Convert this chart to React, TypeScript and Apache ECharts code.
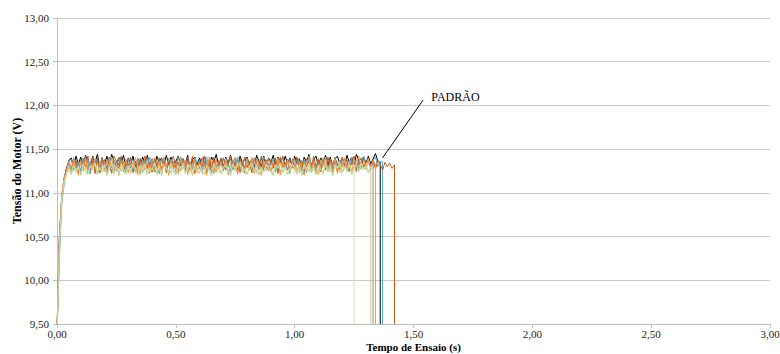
import React, { useEffect, useRef } from "react";
import * as echarts from "echarts";

// sampling interval of the recorded signals (s)
const SAMPLE_STEP = 0.01;
// value the curves fall to when the motor is switched off (axis floor)
const FLOOR_V = 9.5;

const cream = [
  9.40, 10.30, 10.90, 11.12, 11.22, 11.30, 11.24, 11.35, 11.27, 11.33,
  11.22, 11.36, 11.26, 11.31, 11.21, 11.34, 11.28, 11.37, 11.23, 11.30,
  11.35, 11.25, 11.32, 11.21, 11.36, 11.27, 11.33, 11.24, 11.31, 11.37,
  11.23, 11.29, 11.35, 11.22, 11.33, 11.26, 11.36, 11.28, 11.21, 11.32,
  11.27, 11.37, 11.24, 11.31, 11.22, 11.35, 11.29, 11.23, 11.34, 11.26,
  11.33, 11.21, 11.30, 11.36, 11.25, 11.32, 11.22, 11.35, 11.28, 11.24,
  11.36, 11.27, 11.31, 11.22, 11.34, 11.25, 11.37, 11.29, 11.23, 11.33,
  11.26, 11.35, 11.21, 11.30, 11.36, 11.24, 11.32, 11.27, 11.34, 11.22,
  11.31, 11.25, 11.36, 11.28, 11.22, 11.33, 11.26, 11.37, 11.24, 11.30,
  11.35, 11.23, 11.29, 11.34, 11.21, 11.32, 11.27, 11.36, 11.25, 11.31,
  11.22, 11.34, 11.28, 11.37, 11.24, 11.30, 11.35, 11.23, 11.33, 11.26,
  11.36, 11.29, 11.22, 11.32, 11.27, 11.35, 11.21, 11.31, 11.25, 11.34,
  11.28, 11.36, 11.23, 11.30, 11.26, 11.33,
];

const gray = [
  9.40, 10.35, 10.92, 11.14, 11.24, 11.33, 11.25, 11.37, 11.28, 11.34,
  11.23, 11.36, 11.29, 11.38, 11.24, 11.32, 11.27, 11.35, 11.22, 11.31,
  11.37, 11.26, 11.33, 11.23, 11.38, 11.29, 11.34, 11.25, 11.36, 11.28,
  11.32, 11.22, 11.35, 11.27, 11.38, 11.24, 11.31, 11.36, 11.26, 11.33,
  11.23, 11.37, 11.29, 11.34, 11.25, 11.38, 11.28, 11.32, 11.22, 11.35,
  11.30, 11.24, 11.37, 11.27, 11.33, 11.23, 11.36, 11.29, 11.38, 11.26,
  11.34, 11.22, 11.31, 11.37, 11.25, 11.35, 11.28, 11.23, 11.36, 11.30,
  11.26, 11.38, 11.32, 11.24, 11.35, 11.27, 11.37, 11.22, 11.33, 11.29,
  11.36, 11.25, 11.31, 11.38, 11.23, 11.34, 11.28, 11.36, 11.26, 11.32,
  11.24, 11.37, 11.29, 11.33, 11.22, 11.35, 11.27, 11.38, 11.25, 11.31,
  11.36, 11.28, 11.23, 11.34, 11.30, 11.37, 11.24, 11.32, 11.27, 11.35,
  11.22, 11.33, 11.38, 11.26, 11.31, 11.24, 11.36, 11.29, 11.34, 11.23,
  11.37, 11.28, 11.32, 11.25, 11.35, 11.30, 11.23, 11.36, 11.27, 11.33,
  11.26, 11.34, 11.29,
];

const brown = [
  9.40, 10.45, 10.97, 11.17, 11.27, 11.36, 11.26, 11.40, 11.29, 11.35,
  11.24, 11.39, 11.30, 11.42, 11.25, 11.36, 11.28, 11.40, 11.23, 11.34,
  11.38, 11.27, 11.41, 11.30, 11.24, 11.37, 11.32, 11.42, 11.26, 11.35,
  11.29, 11.40, 11.23, 11.36, 11.31, 11.39, 11.25, 11.34, 11.41, 11.28,
  11.37, 11.24, 11.33, 11.40, 11.27, 11.38, 11.30, 11.23, 11.36, 11.42,
  11.29, 11.35, 11.25, 11.39, 11.31, 11.41, 11.26, 11.34, 11.38, 11.24,
  11.36, 11.30, 11.42, 11.27, 11.35, 11.23, 11.39, 11.32, 11.28, 11.40,
  11.25, 11.37, 11.31, 11.41, 11.26, 11.34, 11.38, 11.24, 11.36, 11.29,
  11.40, 11.27, 11.35, 11.23, 11.39, 11.32, 11.42, 11.28, 11.34, 11.25,
  11.38, 11.30, 11.36, 11.24, 11.41, 11.29, 11.35, 11.26, 11.39, 11.31,
  11.27, 11.40, 11.33, 11.25, 11.37, 11.30, 11.42, 11.28, 11.35, 11.23,
  11.39, 11.31, 11.36, 11.26, 11.41, 11.29, 11.34, 11.38, 11.24, 11.37,
  11.30, 11.40, 11.27, 11.35, 11.32, 11.39, 11.25, 11.36, 11.29, 11.41,
  11.33, 11.38, 11.30, 11.35,
];

const orange = [
  9.40, 10.50, 10.98, 11.18, 11.26, 11.36, 11.22, 11.38, 11.28, 11.20,
  11.37, 11.25, 11.40, 11.23, 11.33, 11.29, 11.39, 11.21, 11.35, 11.27,
  11.24, 11.38, 11.30, 11.41, 11.22, 11.34, 11.20, 11.37, 11.28, 11.39,
  11.23, 11.35, 11.27, 11.40, 11.31, 11.21, 11.36, 11.26, 11.38, 11.22,
  11.39, 11.29, 11.21, 11.36, 11.25, 11.41, 11.32, 11.20, 11.37, 11.28,
  11.34, 11.22, 11.40, 11.30, 11.37, 11.21, 11.33, 11.26, 11.39, 11.24,
  11.23, 11.36, 11.29, 11.20, 11.41, 11.33, 11.24, 11.38, 11.27, 11.35,
  11.26, 11.39, 11.21, 11.34, 11.30, 11.40, 11.23, 11.36, 11.28, 11.22,
  11.37, 11.27, 11.41, 11.22, 11.38, 11.31, 11.20, 11.36, 11.29, 11.39,
  11.24, 11.34, 11.28, 11.40, 11.21, 11.35, 11.30, 11.38, 11.25, 11.33,
  11.39, 11.22, 11.36, 11.27, 11.20, 11.34, 11.40, 11.26, 11.37, 11.29,
  11.21, 11.38, 11.32, 11.41, 11.24, 11.35, 11.28, 11.39, 11.22, 11.36,
  11.30, 11.40, 11.25, 11.37, 11.23, 11.38, 11.31, 11.42, 11.27, 11.36,
  11.32, 11.39, 11.29, 11.37, 11.33,
];

const darkOrange = [
  9.40, 10.42, 10.96, 11.16, 11.27, 11.36, 11.39, 11.26, 11.37, 11.23,
  11.38, 11.29, 11.42, 11.25, 11.35, 11.40, 11.22, 11.37, 11.30, 11.41,
  11.27, 11.38, 11.33, 11.23, 11.42, 11.36, 11.28, 11.40, 11.24, 11.37,
  11.30, 11.41, 11.26, 11.36, 11.22, 11.39, 11.32, 11.42, 11.28, 11.35,
  11.24, 11.40, 11.31, 11.37, 11.25, 11.41, 11.23, 11.35, 11.39, 11.28,
  11.37, 11.24, 11.41, 11.33, 11.26, 11.39, 11.30, 11.42, 11.22, 11.36,
  11.28, 11.40, 11.35, 11.23, 11.38, 11.29, 11.41, 11.25, 11.37, 11.32,
  11.40, 11.26, 11.35, 11.42, 11.28, 11.37, 11.22, 11.39, 11.31, 11.41,
  11.29, 11.36, 11.23, 11.40, 11.34, 11.27, 11.41, 11.25, 11.38, 11.32,
  11.37, 11.28, 11.40, 11.22, 11.35, 11.42, 11.30, 11.38, 11.25, 11.36,
  11.31, 11.41, 11.27, 11.37, 11.23, 11.39, 11.34, 11.26, 11.42, 11.29,
  11.38, 11.24, 11.35, 11.41, 11.30, 11.37, 11.22, 11.40, 11.33, 11.27,
  11.41, 11.32, 11.38, 11.25, 11.36, 11.42, 11.28, 11.35, 11.40, 11.29,
  11.36, 11.40, 11.31, 11.38, 11.27, 11.37, 11.33, 11.26, 11.35, 11.30,
  11.34, 11.28, 11.32,
];

const teal = [
  9.40, 10.25, 10.88, 11.10, 11.25, 11.35, 11.26, 11.39, 11.29, 11.36,
  11.24, 11.40, 11.30, 11.37, 11.22, 11.41, 11.31, 11.38, 11.26, 11.39,
  11.35, 11.23, 11.40, 11.29, 11.37, 11.25, 11.41, 11.32, 11.36, 11.22,
  11.39, 11.28, 11.35, 11.24, 11.40, 11.33, 11.23, 11.38, 11.30, 11.41,
  11.27, 11.37, 11.32, 11.22, 11.39, 11.35, 11.26, 11.40, 11.29, 11.36,
  11.24, 11.41, 11.33, 11.38, 11.23, 11.39, 11.31, 11.27, 11.40, 11.34,
  11.37, 11.25, 11.36, 11.41, 11.28, 11.35, 11.22, 11.39, 11.30, 11.37,
  11.26, 11.40, 11.33, 11.24, 11.38, 11.31, 11.41, 11.27, 11.36, 11.23,
  11.39, 11.30, 11.37, 11.25, 11.40, 11.34, 11.26, 11.41, 11.35, 11.28,
  11.33, 11.39, 11.24, 11.37, 11.31, 11.41, 11.27, 11.36, 11.22, 11.39,
  11.30, 11.40, 11.35, 11.26, 11.38, 11.23, 11.42, 11.33, 11.37, 11.28,
  11.36, 11.25, 11.40, 11.32, 11.27, 11.39, 11.30, 11.41, 11.29, 11.35,
  11.40, 11.31, 11.37, 11.24, 11.41, 11.33, 11.38, 11.27, 11.36, 11.42,
  11.31, 11.38, 11.27, 11.37, 11.41, 11.30, 11.35, 11.36,
];

const padrao = [
  9.40, 10.50, 10.93, 11.16, 11.28, 11.37, 11.40, 11.30, 11.42, 11.33,
  11.41, 11.29, 11.43, 11.35, 11.28, 11.42, 11.34, 11.44, 11.30, 11.39,
  11.33, 11.42, 11.29, 11.44, 11.36, 11.30, 11.41, 11.33, 11.43, 11.28,
  11.40, 11.32, 11.42, 11.29, 11.38, 11.27, 11.41, 11.34, 11.43, 11.31,
  11.39, 11.28, 11.42, 11.35, 11.40, 11.30, 11.43, 11.32, 11.41, 11.29,
  11.36, 11.42, 11.31, 11.39, 11.33, 11.43, 11.28, 11.38, 11.41, 11.32,
  11.40, 11.30, 11.42, 11.35, 11.28, 11.41, 11.36, 11.44, 11.31, 11.39,
  11.29, 11.41, 11.34, 11.43, 11.32, 11.40, 11.27, 11.42, 11.35, 11.38,
  11.41, 11.31, 11.39, 11.29, 11.43, 11.36, 11.30, 11.42, 11.28, 11.40,
  11.35, 11.43, 11.30, 11.41, 11.37, 11.31, 11.42, 11.34, 11.40, 11.29,
  11.42, 11.32, 11.39, 11.28, 11.41, 11.35, 11.44, 11.31, 11.38, 11.42,
  11.30, 11.40, 11.35, 11.43, 11.31, 11.41, 11.28, 11.39, 11.42, 11.33,
  11.40, 11.30, 11.43, 11.35, 11.41, 11.32, 11.44, 11.37, 11.30, 11.41,
  11.34, 11.42, 11.33, 11.39, 11.45, 11.36, 11.35,
];

const green = [
  9.40, 10.38, 10.93, 11.13, 11.22, 11.29, 11.21, 11.32, 11.24, 11.30,
  11.20, 11.33, 11.25, 11.21, 11.31, 11.27, 11.34, 11.22, 11.29, 11.24,
  11.32, 11.20, 11.28, 11.34, 11.23, 11.30, 11.21, 11.33, 11.26, 11.22,
  11.31, 11.24, 11.34, 11.27, 11.20, 11.32, 11.25, 11.33, 11.21, 11.29,
  11.26, 11.34, 11.22, 11.30, 11.20, 11.32, 11.28, 11.23, 11.33, 11.25,
  11.21, 11.31, 11.26, 11.34, 11.23, 11.29, 11.32, 11.20, 11.30, 11.24,
  11.33, 11.25, 11.21, 11.31, 11.28, 11.20, 11.34, 11.26, 11.30, 11.22,
  11.29, 11.32, 11.24, 11.20, 11.33, 11.26, 11.31, 11.34, 11.23, 11.28,
  11.21, 11.30, 11.34, 11.25, 11.32, 11.20, 11.29, 11.24, 11.33, 11.27,
  11.25, 11.20, 11.32, 11.28, 11.34, 11.23, 11.30, 11.21, 11.27, 11.33,
  11.29, 11.22, 11.31, 11.20, 11.33, 11.26, 11.34, 11.23, 11.30, 11.21,
  11.32, 11.27, 11.22, 11.33, 11.25, 11.31, 11.20, 11.32, 11.28, 11.34,
  11.23, 11.30, 11.26, 11.33, 11.21, 11.29, 11.32, 11.24, 11.34, 11.27,
  11.31, 11.23, 11.30, 11.27,
];

// drawing order: first entry is drawn at the bottom
const seriesNames = ["PADRÃO", "Ensaio 1", "Ensaio 2", "Ensaio 3", "Ensaio 4", "Ensaio 5", "Ensaio 6", "Ensaio 7"];
const seriesValues = [padrao, cream, gray, brown, teal, darkOrange, orange, green];
const seriesColors = ["#000000", "#E3DFB8", "#CFC6B4", "#A9614A", "#4BACC6", "#C65911", "#F79646", "#C3D69B"];
const seriesWidths = [1, 1, 1, 1, 1, 1, 1, 1.4];

const X_MIN = 0;
const X_MAX = 3;
const X_INTERVAL = 0.5;
const Y_MIN = 9.5;
const Y_MAX = 13;
const Y_INTERVAL = 0.5;

const xTitle = "Tempo de Ensaio (s)";
const yTitle = "Tensão do Motor (V)";
const annotationText = "PADRÃO";
const annotationTip = [1.37, 11.4];
const annotationElbow = [1.54, 12.06];
const annotationLabelAt = [1.575, 12.1];

const FONT = "Liberation Serif";
const fmt = (v: number) => v.toFixed(2).replace(".", ",");

function toPoints(values: number[]) {
  const pts: number[][] = values.map((v, i) => [Number((i * SAMPLE_STEP).toFixed(2)), v]);
  const lastT = pts[pts.length - 1][0];
  pts.push([lastT, FLOOR_V]);
  return pts;
}

export default function App() {
  const ref = useRef<HTMLDivElement>(null);
  useEffect(() => {
    if (!ref.current) return;
    const chart = echarts.init(ref.current, undefined, { renderer: "svg" });
    chart.setOption({
      animation: false,
      backgroundColor: "#ffffff",
      grid: { left: 57, right: 10, top: 18, bottom: 30, containLabel: false, outerBoundsMode: "none" },
      xAxis: {
        type: "value",
        min: X_MIN,
        max: X_MAX,
        interval: X_INTERVAL,
        name: xTitle,
        nameLocation: "middle",
        nameGap: 17,
        nameMoveOverlap: false,
        nameTextStyle: { fontFamily: FONT, fontWeight: "bold", fontSize: 11, color: "#000", lineHeight: 12 },
        axisLine: { show: true, lineStyle: { color: "#BFBFBF", width: 1 } },
        axisTick: { show: true, length: 4, lineStyle: { color: "#BFBFBF" } },
        axisLabel: { formatter: fmt, fontFamily: FONT, fontSize: 11, color: "#222", margin: 4, lineHeight: 12 },
        splitLine: { show: false },
      },
      yAxis: {
        type: "value",
        min: Y_MIN,
        max: Y_MAX,
        interval: Y_INTERVAL,
        name: yTitle,
        nameLocation: "middle",
        nameGap: 34,
        nameMoveOverlap: false,
        nameTextStyle: { fontFamily: FONT, fontWeight: "bold", fontSize: 12, color: "#000" },
        axisLine: { show: true, lineStyle: { color: "#BFBFBF", width: 1 } },
        axisTick: { show: true, length: 4, lineStyle: { color: "#BFBFBF" } },
        axisLabel: { formatter: fmt, fontFamily: FONT, fontSize: 11, color: "#222", margin: 8 },
        splitLine: { show: true, lineStyle: { color: "#C8C8C8", width: 1 } },
      },
      series: seriesValues.map((vals, k) => ({
        name: seriesNames[k],
        type: "line",
        data: toPoints(vals),
        showSymbol: false,
        symbol: "none",
        clip: true,
        lineStyle: { color: seriesColors[k], width: seriesWidths[k] },
        itemStyle: { color: seriesColors[k] },
        z: 2 + k,
      })),
    });
    const tip = chart.convertToPixel({ gridIndex: 0 }, annotationTip) as number[];
    const elbow = chart.convertToPixel({ gridIndex: 0 }, annotationElbow) as number[];
    const lab = chart.convertToPixel({ gridIndex: 0 }, annotationLabelAt) as number[];
    chart.setOption({
      graphic: [
        {
          type: "line",
          shape: { x1: tip[0], y1: tip[1], x2: elbow[0], y2: elbow[1] },
          style: { stroke: "#000", lineWidth: 1 },
          z: 100,
        },
        {
          type: "text",
          x: lab[0],
          y: lab[1],
          style: {
            text: annotationText,
            fontFamily: FONT,
            fontSize: 12,
            fill: "#000",
            align: "left",
            verticalAlign: "middle",
          },
          z: 100,
        },
      ],
    });
    return () => chart.dispose();
  }, []);
  return (
    <div
      ref={ref}
      style={{ position: "fixed", left: 0, top: 0, width: 780, height: 354, background: "#fff" }}
    />
  );
}
